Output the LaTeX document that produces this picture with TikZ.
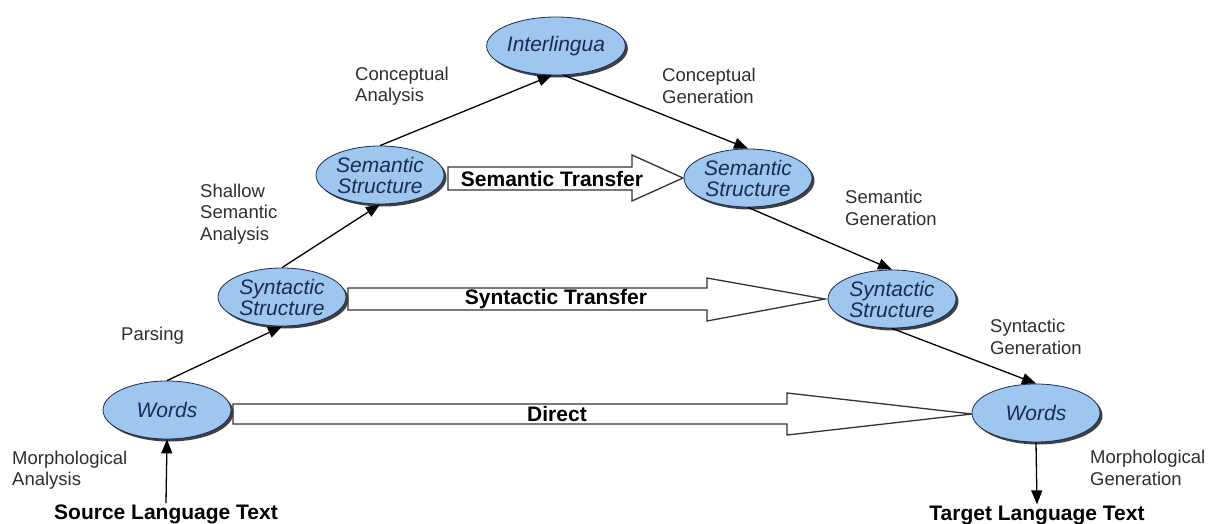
\documentclass[tikz,border=0pt]{standalone}
\usepackage{fontspec}
\setmainfont{Liberation Sans}
\usetikzlibrary{shapes.geometric,arrows.meta,shadows}
\definecolor{ellfill}{HTML}{9EC6EE}
\definecolor{elltext}{HTML}{1A2C52}
\definecolor{lbl}{HTML}{2E2E2E}
\begin{document}
\begin{tikzpicture}[x=1pt,y=-1pt,
  concept/.style={ellipse, draw=elltext, line width=0.8pt, fill=ellfill,
    minimum width=128pt, minimum height=58pt, inner sep=0pt, align=center,
    text=elltext, font=\fontsize{21}{21}\selectfont\itshape,
    drop shadow={shadow xshift=2.5pt, shadow yshift=-2.5pt, fill=black!75, opacity=1}},
  lab/.style={anchor=west, align=left, inner sep=0pt, text=lbl,
    font=\fontsize{18.5}{21.5}\selectfont},
  flow/.style={-{Triangle[length=14pt,width=11pt]}, line width=1.3pt},
  block/.style={draw=black!80, line width=1.3pt, fill=white},
  blocklab/.style={font=\fontsize{21}{21}\selectfont\bfseries, inner sep=0pt},
  endlab/.style={font=\fontsize{21}{21}\selectfont\bfseries, inner sep=1pt}]
\useasboundingbox (0,0) rectangle (1213,524);

% block arrows
\draw[block] (448,167) -- (632,167) -- (632,155) -- (683,178) -- (632,201) -- (632,190) -- (448,190) -- cycle;
\draw[block] (348,288) -- (707,288) -- (707,278) -- (825,299) -- (707,321) -- (707,310) -- (348,310) -- cycle;
\draw[block] (233,404) -- (787,404) -- (787,393) -- (972,414) -- (787,435) -- (787,424) -- (233,424) -- cycle;
\node[blocklab] (semT) at (552,179) {Semantic Transfer};
\node[blocklab] (synT) at (556,299) {Syntactic Transfer};
\node[blocklab] (dirT) at (557,414) {Direct};

% concept nodes
\node[concept] (wordsL) at (167,410) {Words};
\node[concept] (synL) at (282,297) {Syntactic\\Structure};
\node[concept] (semL) at (380,175) {Semantic\\Structure};
\node[concept] (inter) at (556,46) {Interlingua};
\node[concept] (semR) at (748,178) {Semantic\\Structure};
\node[concept] (synR) at (892,299) {Syntactic\\Structure};
\node[concept] (wordsR) at (1036,413) {Words};

% end texts
\node[endlab] (src) at (166,514) {Source Language Text};
\node[endlab] (tgt) at (1037,515) {Target Language Text};

% connectors
\draw[flow] (src.north) -- (wordsL.south);
\draw[flow] (wordsL.north) -- (synL.south);
\draw[flow] (synL.north) -- (semL.south);
\draw[flow] (semL.north) -- (inter.-98);
\draw[flow] (inter.-75) -- (semR.north);
\draw[flow] (semR.south) -- (synR.north);
\draw[flow] (synR.south) -- (wordsR.north);
\draw[flow] (wordsR.south) -- (tgt.north);

% labels
\node[lab] (lCA) at (355,86) {Conceptual\\Analysis};
\node[lab] (lCG) at (662,86) {Conceptual\\Generation};
\node[lab] (lSSA) at (200,214) {Shallow\\Semantic\\Analysis};
\node[lab] (lP) at (121,336) {Parsing};
\node[lab] (lSG) at (845,208) {Semantic\\Generation};
\node[lab] (lSyG) at (990,337) {Syntactic\\Generation};
\node[lab] (lMA) at (12,470) {Morphological\\Analysis};
\node[lab] (lMG) at (1090,468) {Morphological\\Generation};
\end{tikzpicture}
\end{document}
